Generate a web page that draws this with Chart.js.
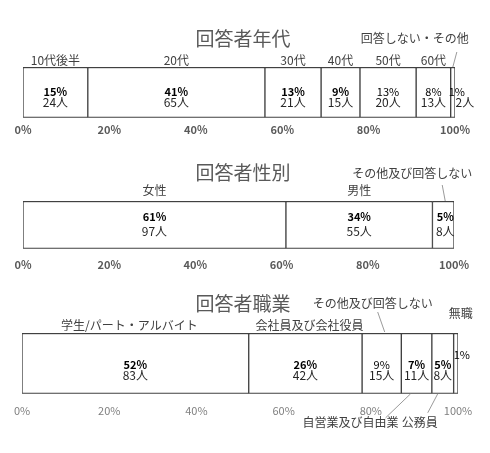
<!DOCTYPE html>
<html>
<head>
<meta charset="utf-8">
<script src="https://cdn.jsdelivr.net/npm/chart.js@4.4.1/dist/chart.umd.min.js"></script>
<style>
  html, body { margin: 0; padding: 0; background: #fff; }
  #wrap { position: relative; width: 490px; height: 453px; }
  canvas { position: absolute; left: 0; }
</style>
</head>
<body>
<div id="wrap">
  <canvas id="age" width="490" height="145" style="top:0px"></canvas>
  <canvas id="gender" width="490" height="135" style="top:145px"></canvas>
  <canvas id="job" width="490" height="173" style="top:280px"></canvas>
</div>
<script>
// data
const ageLabels = ['10代後半', '20代', '30代', '40代', '50代', '60代', '回答しない・その他'];
const agePct = [15, 41, 13, 9, 13, 8, 1];
const ageCount = [24, 65, 21, 15, 20, 13, 2];

const genderLabels = ['女性', '男性', 'その他及び回答しない'];
const genderPct = [61, 34, 5];
const genderCount = [97, 55, 8];

const jobLabels = ['学生/パート・アルバイト', '会社員及び会社役員', 'その他及び回答しない', '自営業及び自由業', '公務員', '無職'];
const jobPct = [52, 26, 9, 7, 5, 1];
const jobCount = [83, 42, 15, 11, 8, null];

const tickValues = [0, 20, 40, 60, 80, 100];

const FONT = '"Noto Sans CJK JP", "Noto Sans", sans-serif';

// draws title, segment names, percentages and counts
function labelPlugin(s) {
  return {
    id: 'segLabels',
    afterDraw(chart) {
      const ctx = chart.ctx;
      ctx.save();
      ctx.textAlign = 'center';
      ctx.textBaseline = 'middle';
      ctx.fillStyle = '#595959';
      ctx.font = '19px ' + FONT;
      ctx.fillText(s.title, 243, s.titleY);

      s.names.forEach((name, i) => {
        const el = chart.getDatasetMeta(i).data[0];
        const left = Math.min(el.x, el.base), right = Math.max(el.x, el.base);
        const cx = (left + right) / 2;
        const top = el.y - el.height / 2, bottom = el.y + el.height / 2;
        const inner = s.inner[i] || {};

        ctx.fillStyle = '#000';
        ctx.font = (s.bold[i] ? 'bold ' : '') + '11px ' + FONT;
        ctx.fillText(s.pct[i] + '%', cx + (inner.pctDx || 0), el.y + s.pctDy + (inner.pctDy || 0));
        if (s.counts[i] != null) {
          ctx.fillStyle = '#262626';
          ctx.font = '12px ' + FONT;
          ctx.fillText(s.counts[i] + '人', cx + (inner.cntDx || 0), el.y + s.cntDy);
        }

        ctx.fillStyle = '#404040';
        ctx.font = '12px ' + FONT;
        const co = s.callouts[i];
        if (co) {
          const by = co.below ? bottom : top;
          ctx.fillText(name, cx + co.tx, by + co.ty);
          if (co.line) {
            ctx.strokeStyle = '#808080';
            ctx.lineWidth = 0.8;
            ctx.beginPath();
            ctx.moveTo(cx + co.line[0], by + co.line[1]);
            ctx.lineTo(cx + co.line[2], by + co.line[3]);
            ctx.stroke();
          }
        } else {
          ctx.fillText(name, cx + (s.nameDx ? s.nameDx[i] : 0), top + s.nameDy);
        }
      });
      ctx.restore();
    }
  };
}

function makeChart(id, names, pct, counts, s, layout, tickStyle) {
  const datasets = names.map((n, i) => ({
    label: n,
    data: [pct[i]],
    backgroundColor: '#ffffff',
    borderColor: '#404040',
    borderWidth: { top: 1.5, bottom: 1.5, left: 1, right: 1 },
    borderSkipped: false,
    barPercentage: 1,
    categoryPercentage: 1
  }));
  s.names = names; s.pct = pct; s.counts = counts;
  new Chart(document.getElementById(id), {
    type: 'bar',
    data: { labels: [''], datasets: datasets },
    options: {
      responsive: false,
      animation: false,
      indexAxis: 'y',
      layout: { padding: layout },
      plugins: { legend: { display: false }, tooltip: { enabled: false } },
      scales: {
        x: {
          stacked: true, min: 0, max: 100,
          afterBuildTicks: (axis) => { axis.ticks = tickValues.map(v => ({ value: v })); },
          grid: { display: false, drawTicks: false },
          border: { display: false },
          ticks: {
            padding: tickStyle.padding,
            color: tickStyle.color,
            font: { family: FONT, size: 11, weight: tickStyle.weight },
            callback: v => v + '%'
          }
        },
        y: { stacked: true, display: false }
      }
    },
    plugins: [labelPlugin(s)]
  });
}

makeChart('age', ageLabels, agePct, ageCount, {
  title: '回答者年代', titleY: 39,
  bold: [1, 1, 1, 1, 0, 0, 0],
  pctDy: -1, cntDy: 10, nameDy: -7,
  inner: { 6: { pctDx: 4, cntDx: 12 } },
  callouts: { 6: { tx: -38, ty: -29, line: [4, -15, 0, 0] } }
}, { top: 67, left: 23, right: 35, bottom: 4 }, { padding: 5, color: '#595959', weight: 'bold' });

makeChart('gender', genderLabels, genderPct, genderCount, {
  title: '回答者性別', titleY: 28,
  bold: [1, 1, 1],
  pctDy: -8, cntDy: 7, nameDy: -11,
  inner: { 2: { pctDx: 2, cntDx: 2 } },
  callouts: { 2: { tx: -31, ty: -28, line: [-1, -16, 2, 0] } }
}, { top: 56, left: 23, right: 36, bottom: 0 }, { padding: 9, color: '#595959', weight: 'bold' });

makeChart('job', jobLabels, jobPct, jobCount, {
  title: '回答者職業', titleY: 24,
  bold: [1, 1, 0, 1, 1, 0],
  pctDy: 1, cntDy: 12, nameDy: -8,
  nameDx: [-6, 4, 0, 0, 0, 0],
  inner: { 5: { pctDx: 6, pctDy: -10 } },
  callouts: {
    2: { tx: -9, ty: -30, line: [-4, -21, 3, -1] },
    3: { below: true, tx: -66, ty: 29, line: [-31, 24, -6, 0] },
    4: { below: true, tx: -23, ty: 29, line: [-15, 19, -5, 0] },
    5: { tx: 5, ty: -20 }
  }
}, { top: 53, left: 22, right: 32, bottom: 26 }, { padding: 10, color: '#7f7f7f', weight: 'normal' });
</script>
</body>
</html>
